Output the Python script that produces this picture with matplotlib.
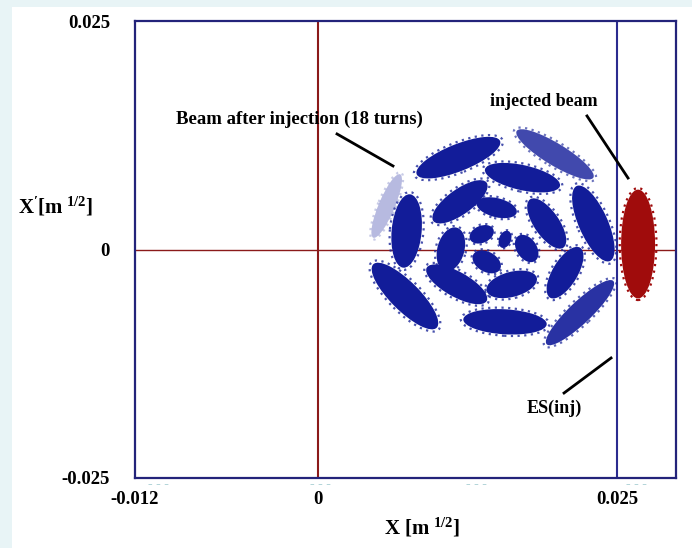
import numpy as np
import matplotlib
matplotlib.use("Agg")
import matplotlib.pyplot as plt
from matplotlib.patches import Ellipse, Rectangle
from matplotlib.collections import EllipseCollection

plt.rcParams['font.family'] = ['Liberation Serif', 'DejaVu Serif']
plt.rcParams['font.weight'] = 'bold'
plt.rcParams['mathtext.fontset'] = 'custom'
plt.rcParams['mathtext.rm'] = 'Liberation Serif:bold'
plt.rcParams['mathtext.it'] = 'Liberation Serif:bold'

# circulating beam after 18 turns: each blob given by its two tips (x, x')
blob_x0 = [0.00825, 0.01661, 0.02163, 0.01912, 0.01215, 0.00462, 0.00769, 0.00686,
           0.01396, 0.00964, 0.01062, 0.00909, 0.01410, 0.01940, 0.01773, 0.01327,
           0.01271, 0.01536, 0.01675, 0.01299]
blob_y0 = [0.00823, 0.01296, 0.00695, -0.01037, -0.00764, -0.00162, 0.00604, 0.00823,
           0.00877, 0.00312, -0.00235, -0.00199, -0.00454, -0.00527, 0.00549, 0.00512,
           0.00112, 0.00020, 0.00148, -0.00053]
blob_x1 = [0.01522, 0.02302, 0.02441, 0.02469, 0.01912, 0.00992, 0.00713, 0.00462,
           0.02023, 0.01410, 0.01160, 0.01410, 0.01829, 0.02191, 0.02051, 0.01661,
           0.01466, 0.01591, 0.01814, 0.01522]
blob_y1 = [0.01187, 0.00786, -0.00126, -0.00345, -0.00818, -0.00856, -0.00199, 0.00129,
           0.00695, 0.00731, 0.00239, -0.00563, -0.00309, 0.00020, 0.00020, 0.00403,
           0.00221, 0.00202, -0.00126, -0.00217]
blob_density = [1, 0.8, 1, 0.9, 1, 1, 1, 0.3, 1, 1, 1, 1, 1, 1, 1, 1, 1, 1, 1, 1]

# injected beam
inj_x, inj_y = 0.02676, 0.0006
inj_w, inj_h = 0.00284, 0.0119

es_inj = 0.025
x_ticks_lab = ['-0.012', '0', '0.025']
y_ticks = [-0.025, 0, 0.025]
y_ticks_lab = ['-0.025', '0', '0.025']

fig = plt.figure(figsize=(6.92, 5.48), dpi=100)
fig.patch.set_facecolor('#e8f4f6')
fig.add_artist(Rectangle((12 / 692, 0), 1, 1 - 7 / 548, transform=fig.transFigure,
                         facecolor='white', edgecolor='none', zorder=-10))

ax = fig.add_axes([135 / 692, 1 - 478 / 548, 541 / 692, 457 / 548])
ax.set_xlim(-0.0153, 0.02993)
ax.set_ylim(-0.025, 0.025)
for s in ax.spines.values():
    s.set_color('#23237a')
    s.set_linewidth(1.6)

ax.axvline(0, color='#8b1a1a', lw=1.5, zorder=1)
ax.axhline(0, color='#8b1a1a', lw=1.0, zorder=1)
ax.axvline(es_inj, color='#2b2b8f', lw=1.5, zorder=1)

# blobs: sizes in pixels, orientation through the data transform
fig.canvas.draw()
p0 = ax.transData.transform(np.column_stack([blob_x0, blob_y0]))
p1 = ax.transData.transform(np.column_stack([blob_x1, blob_y1]))
lens = np.hypot(*(p1 - p0).T)
angs = np.degrees(np.arctan2(*(p1 - p0).T[::-1]))
wids = np.array([27, 22, 29, 22, 25, 29, 30, 16, 25, 25, 27, 25, 25, 25, 25, 19, 17, 12, 20, 20])
cx = (np.array(blob_x0) + np.array(blob_x1)) / 2
cy = (np.array(blob_y0) + np.array(blob_y1)) / 2
dens = np.array(blob_density)
offs = np.column_stack([cx, cy])

halo = EllipseCollection(lens * 1.06, wids * 1.12, angs, units='dots',
                         offsets=offs, offset_transform=ax.transData,
                         facecolors='none',
                         edgecolors=[(0.1, 0.15, 0.6, 0.8 * d) for d in dens],
                         linewidths=1.6, linestyles=[(0, (1, 2))], zorder=2)
core = EllipseCollection(lens, wids, angs, units='dots',
                         offsets=offs, offset_transform=ax.transData,
                         facecolors=[(0.07, 0.11, 0.6, d) for d in dens],
                         edgecolors='none', zorder=3)
ax.add_collection(halo)
ax.add_collection(core)

ax.add_patch(Ellipse((inj_x, inj_y), inj_w * 1.08, inj_h * 1.03, facecolor='none',
                     edgecolor='#a00c0c', lw=1.6, linestyle=(0, (1, 2)), zorder=3))
ax.add_patch(Ellipse((inj_x, inj_y), inj_w, inj_h, facecolor='#a00c0c',
                     edgecolor='none', zorder=4))

ax.set_xticks([-0.0153, 0, es_inj])
ax.set_xticklabels(x_ticks_lab)
ax.set_yticks(y_ticks)
ax.set_yticklabels(y_ticks_lab)
ax.tick_params(length=0, labelsize=13.5, pad=9)
ax.tick_params(axis='y', pad=18)
for lab in ax.get_xticklabels() + ax.get_yticklabels():
    lab.set_fontweight('bold')

# annotations
ax.text(-0.00159, 0.01428, 'Beam after injection (18 turns)', fontsize=13.5,
        fontweight='bold', ha='center', va='center')
ax.plot([0.00159, 0.00627], [0.01264, 0.00914], color='black', lw=2, zorder=5)
ax.text(0.01890, 0.01614, 'injected beam', fontsize=13, fontweight='bold',
        ha='center', va='center')
ax.plot([0.02249, 0.02592], [0.01461, 0.00782], color='black', lw=2, zorder=5)
ax.text(0.02210, -0.01735, 'ES(inj)', fontsize=13, fontweight='bold',
        ha='right', va='center')
ax.plot([0.02057, 0.02450], [-0.01570, -0.01187], color='black', lw=2, zorder=5)

fig.text(56 / 692, 1 - 207 / 548, r"$\mathrm{X}^{\prime}\mathrm{[m}^{\ 1/2}\mathrm{]}$",
         fontsize=15, ha='center', va='center')
fig.text(422 / 692, 1 - 528 / 548, r"$\mathrm{X\ [m}^{\ 1/2}\mathrm{]}$",
         fontsize=15, ha='center', va='center')

for xp in [158, 320, 476, 636]:
    fig.text(xp / 692, 1 - 484 / 548, '- - -', color='#9cc8cd', fontsize=10,
             ha='center', va='center')

fig.savefig('out.png', dpi=100)
